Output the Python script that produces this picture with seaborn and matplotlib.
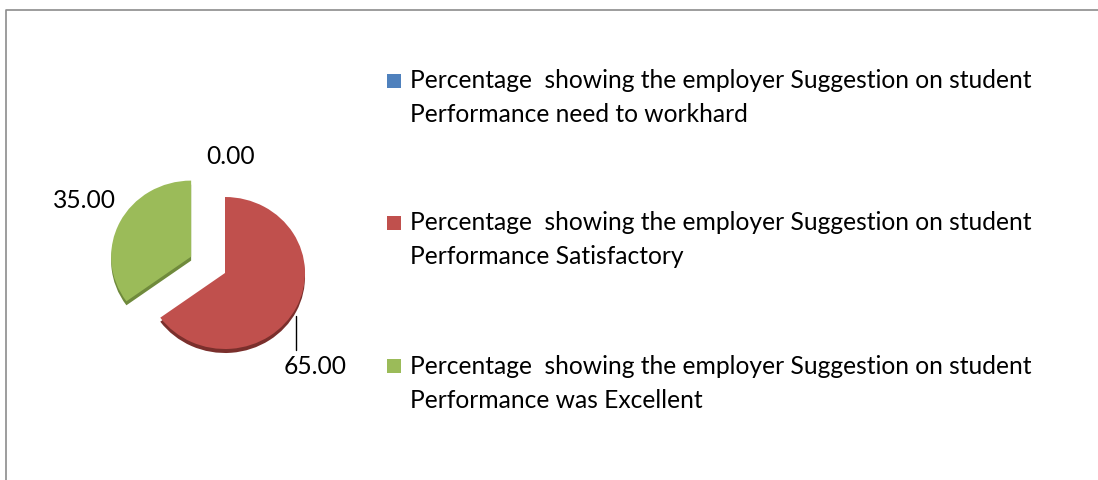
import matplotlib
matplotlib.use("Agg")
import matplotlib.pyplot as plt
from matplotlib.lines import Line2D
import seaborn as sns

# Employer feedback on student performance (percent)
categories = [
    "Percentage  showing the employer Suggestion on student\nPerformance need to workhard",
    "Percentage  showing the employer Suggestion on student\nPerformance Satisfactory",
    "Percentage  showing the employer Suggestion on student\nPerformance was Excellent",
]
values = [0.00, 65.00, 35.00]
value_labels = [f"{v:.2f}" for v in values]

sns.set_theme(style="white")
plt.rcParams["font.family"] = ["Lato", "DejaVu Sans"]

colors = ["#4F81BD", "#C0504D", "#9BBB59"]
edge_colors = ["#3A5F8C", "#7A2F2C", "#6F8A3C"]

W, H = 1098, 480
fig = plt.figure(figsize=(W / 100, H / 100), dpi=100)
ax = fig.add_axes([0, 0, 1, 1])

# slight vertical squash gives the tilted-pie look
squash = 0.95
def to_data(px, py):
    return px, (H - py) / squash

cx, cy = to_data(225, 273)
radius = 80
# explode distances are in data units here
explode = [0.0, 0.0, 38.0]

# darker copy underneath, shifted down, acts as the 3D side
ax.pie(values, colors=edge_colors, startangle=90, counterclock=False,
       explode=explode, radius=radius, center=(cx, cy - 4 / squash),
       wedgeprops=dict(linewidth=0), frame=True)
ax.pie(values, colors=colors, startangle=90, counterclock=False,
       explode=explode, radius=radius, center=(cx, cy),
       wedgeprops=dict(linewidth=0), frame=True)

ax.set_xlim(0, W)
ax.set_ylim(0, H / squash)
ax.set_aspect("auto")
ax.axis("off")

# chart-area border (top and left edges)
ax.add_line(Line2D([6, 6, W], [0, (H - 10) / squash, (H - 10) / squash],
                   color="#8C8C8C", linewidth=1.2))

# data labels
label_pos = [(231, 157), (315, 366), (84, 200)]
for txt, (px, py) in zip(value_labels, label_pos):
    fig.text(px / W, 1 - py / H, txt, ha="center", va="center",
             fontsize=17.7, color="#000000")

# leader line for the largest slice
ax.add_line(Line2D([296, 296], [(H - 316) / squash, (H - 350) / squash],
                   color="#000000", linewidth=1.0))

# legend
legend_y = [81, 223, 366]
line_gap = 34
for name, col, py in zip(categories, colors, legend_y):
    fig.patches.append(plt.Rectangle((387 / W, 1 - (py + 7) / H), 14 / W, 14 / H,
                                     transform=fig.transFigure, facecolor=col,
                                     edgecolor="none"))
    first, second = name.split("\n")
    fig.text(410 / W, 1 - py / H, first, ha="left", va="center",
             fontsize=17.7, color="#000000")
    fig.text(410 / W, 1 - (py + line_gap) / H, second, ha="left", va="center",
             fontsize=17.7, color="#000000")

fig.savefig("out.png", dpi=100, facecolor="white")
